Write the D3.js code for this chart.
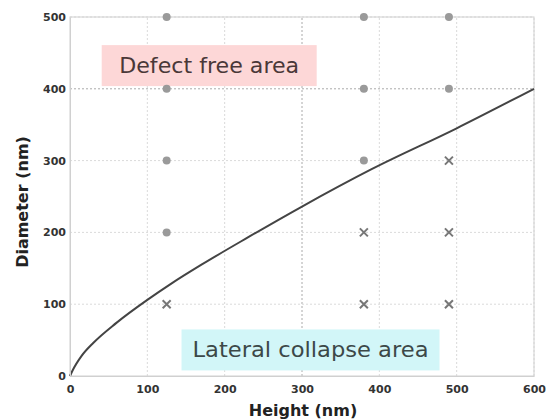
<!DOCTYPE html>
<html>
<head>
<meta charset="utf-8">
<script src="https://cdn.jsdelivr.net/npm/d3@7"></script>
<style>
  body { margin: 0; background: #fff; }
  text { font-family: "DejaVu Sans", sans-serif; }
</style>
</head>
<body>
<svg id="chart" width="547" height="420"></svg>
<script>
// data
var xTicks = [0, 100, 200, 300, 400, 500, 600]
var yTicks = [0, 100, 200, 300, 400, 500]
var okPoints = [[125, 200], [125, 300], [125, 400], [125, 500],
                [380, 300], [380, 400], [380, 500],
                [490, 400], [490, 500]]
var failPoints = [[125, 100], [380, 100], [380, 200], [490, 100], [490, 200], [490, 300]]
var boundary = [[0, 0], [3, 7], [15, 28], [30, 46], [60, 74], [100, 106], [130, 128],
                [170, 155], [230, 193], [300, 236], [390, 288], [500, 345], [600, 400]]

var svg = d3.select("#chart")
var m = {left: 70, right: 13, top: 17, bottom: 44}
var W = 547, H = 420
var x = d3.scaleLinear().domain([0, 600]).range([m.left, W - m.right])
var y = d3.scaleLinear().domain([0, 500]).range([H - m.bottom, m.top])

// grid
svg.append("g").selectAll("line").data(xTicks.slice(1)).enter().append("line")
  .attr("x1", d => x(d)).attr("x2", d => x(d)).attr("y1", y(0)).attr("y2", y(500))
  .attr("stroke", d => d === 300 ? "#aaa" : "#dadada").attr("stroke-dasharray", "2,2")
svg.append("g").selectAll("line").data(yTicks.slice(1)).enter().append("line")
  .attr("x1", x(0)).attr("x2", x(600)).attr("y1", d => y(d)).attr("y2", d => y(d))
  .attr("stroke", d => d === 400 ? "#aaa" : "#dadada").attr("stroke-dasharray", "2,2")

// frame
svg.append("rect").attr("x", x(0)).attr("y", y(500))
  .attr("width", x(600) - x(0)).attr("height", y(0) - y(500))
  .attr("fill", "none").attr("stroke", "#d0d0d0")

// area labels (box given in data units: centre, half-height in px)
function areaLabel(txt, cx, cy, w, len, fill, col) {
  svg.append("rect").attr("x", x(cx) - w / 2).attr("y", y(cy) - 20)
    .attr("width", w).attr("height", 41).attr("fill", fill)
  svg.append("text").attr("x", x(cx)).attr("y", y(cy) + 8).attr("text-anchor", "middle")
    .attr("font-size", 22).attr("fill", col)
    .attr("textLength", len).attr("lengthAdjust", "spacingAndGlyphs").text(txt)
}
areaLabel("Defect free area", 180, 433, 215, 180, "#fdd7d7", "#4a3838")
areaLabel("Lateral collapse area", 311, 37, 258, 236, "#d2f6f8", "#3c4848")

// boundary curve
svg.append("path").datum(boundary)
  .attr("d", d3.line().x(d => x(d[0])).y(d => y(d[1])).curve(d3.curveMonotoneX))
  .attr("fill", "none").attr("stroke", "#444").attr("stroke-width", 2)

// markers
svg.append("g").selectAll("circle").data(okPoints).enter().append("circle")
  .attr("cx", d => x(d[0])).attr("cy", d => y(d[1])).attr("r", 4).attr("fill", "#9a9a9a")
svg.append("g").selectAll("path").data(failPoints).enter().append("path")
  .attr("d", d => {
    var cx = x(d[0]), cy = y(d[1]), r = 4
    return "M" + (cx - r) + "," + (cy - r) + "L" + (cx + r) + "," + (cy + r) +
           "M" + (cx - r) + "," + (cy + r) + "L" + (cx + r) + "," + (cy - r)
  })
  .attr("stroke", "#777").attr("stroke-width", 2)

// axes
var xAxis = svg.append("g").attr("transform", "translate(0," + y(0) + ")")
  .call(d3.axisBottom(x).tickValues(xTicks).tickSize(0).tickPadding(9))
var yAxis = svg.append("g").attr("transform", "translate(" + x(0) + ",0)")
  .call(d3.axisLeft(y).tickValues(yTicks).tickSize(0).tickPadding(4))
xAxis.select(".domain").attr("stroke", "#d0d0d0")
yAxis.select(".domain").attr("stroke", "#d0d0d0")
svg.selectAll(".tick text").attr("font-size", 11).attr("font-weight", "bold").attr("fill", "#333")
  .style("font-family", "'DejaVu Sans', sans-serif")

svg.append("text").attr("x", 303).attr("y", 416).attr("text-anchor", "middle")
  .attr("font-size", 16).attr("font-weight", "bold").attr("fill", "#222").text("Height (nm)")
svg.append("text").attr("transform", "translate(28,202) rotate(-90)")
  .attr("text-anchor", "middle").attr("font-size", 16).attr("font-weight", "bold")
  .attr("fill", "#222").text("Diameter (nm)")
</script>
</body>
</html>
